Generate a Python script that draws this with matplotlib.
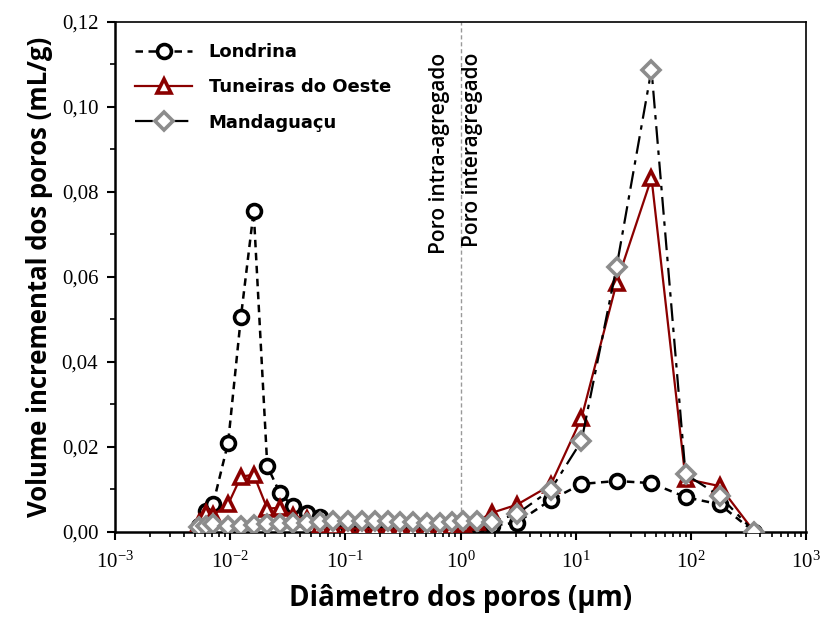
import matplotlib
matplotlib.use("Agg")
import matplotlib.pyplot as plt
from matplotlib.ticker import FixedLocator, LogLocator, NullFormatter, FuncFormatter

# Diâmetro dos poros (um) - grade comum das tres amostras
diam = [0.0054, 0.0062, 0.0071, 0.0096, 0.0124, 0.016, 0.021, 0.027, 0.035,
        0.046, 0.060, 0.078, 0.105, 0.139, 0.18, 0.233, 0.296, 0.385, 0.508,
        0.659, 0.837, 1.04, 1.38, 1.86, 3.07, 6.04, 11.2, 22.6, 45.4, 89.6,
        177, 355]

londrina = [0.0015, 0.005, 0.0065, 0.021, 0.0506, 0.0755, 0.0155, 0.0092,
            0.006, 0.0045, 0.0035, 0.002, 0.0015, 0.0012, 0.001, 0.001, 0.001,
            0.001, 0.001, 0.0012, 0.0013, 0.0015, 0.0015, 0.0015, 0.0022,
            0.0075, 0.0113, 0.012, 0.0115, 0.0082, 0.0065, 0.0]

tuneiras = [0.002, 0.0045, 0.004, 0.0065, 0.013, 0.0135, 0.0055, 0.0057,
            0.0037, 0.003, 0.0015, 0.0012, 0.0008, 0.0008, 0.0007, 0.0006,
            0.0006, 0.0006, 0.0007, 0.0008, 0.0012, 0.0019, 0.0024, 0.0045,
            0.0064, 0.011, 0.0268, 0.0586, 0.0833, 0.0125, 0.0108, 0.0]

mandaguacu = [0.0012, 0.0015, 0.0018, 0.0015, 0.0015, 0.0017, 0.0018, 0.0019,
              0.002, 0.0021, 0.0023, 0.0025, 0.0027, 0.0027, 0.0026, 0.0025,
              0.0024, 0.0023, 0.0022, 0.0022, 0.0023, 0.0025, 0.0026, 0.0024,
              0.0042, 0.0099, 0.0214, 0.0624, 0.1088, 0.0136, 0.0085, 0.0]

yticks = [0.0, 0.02, 0.04, 0.06, 0.08, 0.10, 0.12]

# numeros dos eixos em serifa (Times), rotulos em sans
plt.rcParams['font.family'] = 'Liberation Serif'
plt.rcParams['mathtext.fontset'] = 'custom'
plt.rcParams['mathtext.rm'] = 'Liberation Serif'
sans = 'Open Sans'

fig = plt.figure(figsize=(8.21, 6.22), dpi=100)
ax = fig.add_axes([0.140, 0.1447, 0.842, 0.82])

ax.plot(diam, londrina, ls=(0, (3, 2.2)), color='black', lw=1.8,
        marker='o', ms=10, mfc='white', mec='black', mew=2.6,
        label='Londrina', zorder=3)
ax.plot(diam, tuneiras, ls='-', color='#8b0000', lw=1.6,
        marker='^', ms=10.5, mfc='white', mec='#8b0000', mew=2.6,
        label='Tuneiras do Oeste', zorder=4)
ax.plot(diam, mandaguacu, ls=(0, (8, 3, 2, 3)), color='black', lw=1.6,
        marker='D', ms=9.5, mfc='white', mec='#8c8c8c', mew=2.6,
        label='Mandaguaçu', zorder=5)

ax.axvline(1.0, color='#999999', ls=(0, (3, 2)), lw=1.0, zorder=1)
ax.text(0.66, 0.1128, 'Poro intra-agregado', rotation=90, ha='center',
        va='top', fontsize=15, family=sans, fontweight='semibold')
ax.text(1.27, 0.1128, 'Poro interagregado', rotation=90, ha='center',
        va='top', fontsize=15, family=sans, fontweight='semibold')

ax.set_xscale('log')
ax.set_xlim(1e-3, 1e3)
ax.set_ylim(0, 0.12)

ax.xaxis.set_major_locator(LogLocator(base=10, numticks=10))
ax.xaxis.set_minor_locator(LogLocator(base=10, subs=range(2, 10), numticks=100))
ax.xaxis.set_minor_formatter(NullFormatter())
ax.yaxis.set_major_locator(FixedLocator(yticks))
ax.yaxis.set_minor_locator(FixedLocator([0.01, 0.03, 0.05, 0.07, 0.09, 0.11]))
ax.yaxis.set_major_formatter(FuncFormatter(lambda v, p: f'{v:.2f}'.replace('.', ',')))

ax.tick_params(which='major', direction='out', length=6, width=1.5,
               labelsize=15, pad=6)
ax.tick_params(axis='x', which='major', pad=8)
ax.tick_params(which='minor', direction='out', length=3.5, width=1.2)

for s in ['left', 'bottom']:
    ax.spines[s].set_linewidth(1.8)
for s in ['top', 'right']:
    ax.spines[s].set_linewidth(1.2)

ax.set_xlabel('Diâmetro dos poros (µm)', fontsize=20, family=sans,
              fontweight='bold', labelpad=8)
ax.set_ylabel('Volume incremental dos poros (mL/g)', fontsize=18.5, family=sans,
              fontweight='bold', labelpad=6)

leg = ax.legend(loc='upper left', bbox_to_anchor=(0.005, 0.99), frameon=False,
                handlelength=3.2, labelspacing=0.95, handletextpad=0.9,
                prop={'family': 'DejaVu Sans', 'weight': 'bold', 'size': 13})

fig.savefig('out.png', dpi=100)
